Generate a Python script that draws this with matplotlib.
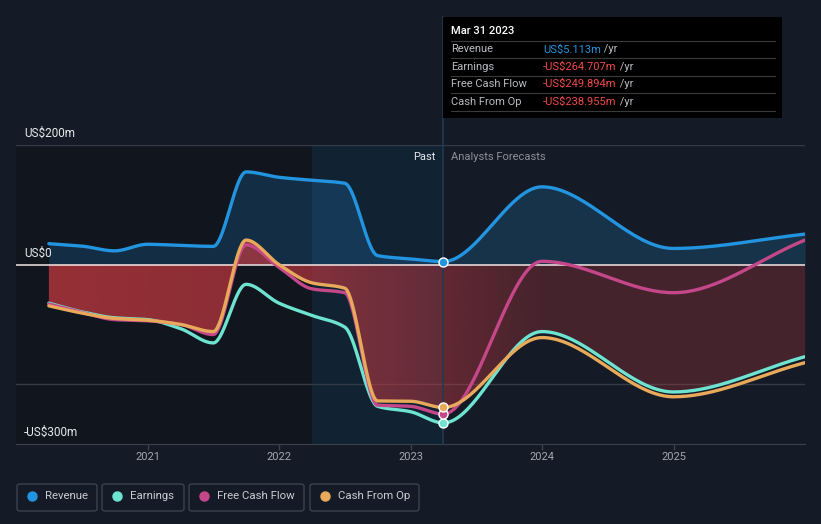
import matplotlib
matplotlib.use("Agg")
import matplotlib.pyplot as plt
from matplotlib.patches import Rectangle, FancyBboxPatch
from matplotlib.lines import Line2D
import numpy as np

plt.rcParams['font.family'] = ['Roboto', 'DejaVu Sans']

# quarterly history (US$m), then analyst forecasts
quarters = [2020.25, 2020.5, 2020.75, 2021.0, 2021.25, 2021.5, 2021.75,
            2022.0, 2022.25, 2022.5, 2022.75, 2023.0, 2023.25]
revenue_past = [35, 31, 23, 34, 32, 30.5, 155, 146, 141, 136, 15, 9.5, 5.113]
earnings_past = [-64.5, -79, -89, -92, -107, -131, -33, -64.5, -85, -104.5, -237, -246, -264.707]
fcf_past = [-66, -80, -92, -94, -100, -117, 33, -4.5, -40.5, -47, -235, -237, -249.894]
cfo_past = [-69, -81, -90, -93, -100, -112, 41, 0, -30.5, -39.5, -228, -228.5, -238.955]

forecast_years = [2024.0, 2025.0, 2026.0]
revenue_fc = [130, 27, 51]
earnings_fc = [-112, -213, -154]
fcf_fc = [5.5, -47, 41]
cfo_fc = [-122, -221, -164]

year_ticks = [2021, 2022, 2023, 2024, 2025]

BG = "#151b26"
C_REV = "#2394df"
C_EARN = "#6de3d0"
C_FCF = "#c4478a"
C_CFO = "#e8a95b"


def monotone(t, y, n=40):
    # monotone cubic curve, like the smoothed lines of the original chart
    t = np.asarray(t, float)
    y = np.asarray(y, float)
    h = np.diff(t)
    d = np.diff(y) / h
    m = np.zeros_like(y)
    m[0], m[-1] = d[0], d[-1]
    for i in range(1, len(y) - 1):
        if d[i - 1] * d[i] <= 0:
            m[i] = 0
        else:
            w1 = 2 * h[i] + h[i - 1]
            w2 = h[i] + 2 * h[i - 1]
            m[i] = (w1 + w2) / (w1 / d[i - 1] + w2 / d[i])
    xs, ys = [], []
    for i in range(len(h)):
        s = np.linspace(0, 1, n, endpoint=(i == len(h) - 1))
        h00 = 2 * s**3 - 3 * s**2 + 1
        h10 = s**3 - 2 * s**2 + s
        h01 = -2 * s**3 + 3 * s**2
        h11 = s**3 - s**2
        xs.append(t[i] + s * h[i])
        ys.append(h00 * y[i] + h10 * h[i] * m[i] + h01 * y[i + 1] + h11 * h[i] * m[i + 1])
    return np.concatenate(xs), np.concatenate(ys)


t_all = quarters + forecast_years
tx, rev = monotone(t_all, revenue_past + revenue_fc)
_, earn = monotone(t_all, earnings_past + earnings_fc)
_, fcf = monotone(t_all, fcf_past + fcf_fc)
_, cfo = monotone(t_all, cfo_past + cfo_fc)

W, H = 821, 524
fig = plt.figure(figsize=(W / 100, H / 100), dpi=100, facecolor=BG)
ax = fig.add_axes([16 / W, (H - 444) / H, (805 - 16) / W, (444 - 145) / H])
ax.set_facecolor(BG)
ax.set_xlim(2020.0, 2026.0)
ax.set_ylim(-300, 200)

# background bands
ax.axvspan(2020.0, 2022.25, color="#0c0f15", alpha=0.45, lw=0, zorder=0)
ax.axvspan(2022.25, 2023.25, color="#0e2a40", alpha=0.5, lw=0, zorder=0)

for g in (200, -200):
    ax.axhline(g, color="#343a46", lw=1, zorder=1)

# fills
ax.fill_between(tx, rev, 0, color=C_REV, alpha=0.2, lw=0, zorder=2)

# red area, fading from left to right
low = np.maximum(earn, cfo)
poly = ax.fill_between(tx, 0, low, facecolor="none", lw=0, zorder=2)
gx = np.linspace(2020.0, 2026.0, 400)
alpha = np.interp(gx, [2020.25, 2022.0, 2023.25, 2024.0], [0.7, 0.64, 0.42, 0.26])
grad = np.zeros((2, gx.size, 4))
grad[..., 0] = 0xd0 / 255
grad[..., 1] = 0x3b / 255
grad[..., 2] = 0x42 / 255
grad[..., 3] = alpha
img = ax.imshow(grad, extent=(2020.0, 2026.0, -300, 200), aspect="auto",
                origin="lower", zorder=2, interpolation="bilinear")
img.set_clip_path(poly.get_paths()[0], transform=ax.transData)

ax.axhline(0, color="#f2e6e6", lw=1.1, zorder=3)

for yy, c in ((rev, C_REV), (earn, C_EARN), (fcf, C_FCF), (cfo, C_CFO)):
    ax.plot(tx, yy, color=c, lw=2.4, zorder=4, solid_capstyle="round")

# markers at the last reported quarter
for v, c in ((revenue_past[-1], C_REV), (earnings_past[-1], C_EARN),
             (fcf_past[-1], C_FCF), (cfo_past[-1], C_CFO)):
    ax.plot([quarters[-1]], [v], "o", ms=6.5, color=c, mec="white", mew=1, zorder=6)

ax.axvline(2023.25, ymin=0, ymax=(444 - 17) / (444 - 145), color="#223a52",
           lw=1.2, zorder=3.5, clip_on=False)

for s in ("top", "right", "left"):
    ax.spines[s].set_visible(False)
ax.spines["bottom"].set_color("#3a404c")
ax.set_yticks([])
ax.set_xticks(year_ticks)
ax.set_xticklabels([str(y) for y in year_ticks])
ax.tick_params(axis="x", colors="#3a404c", length=4, width=1, pad=2, labelcolor="#a3a7ae", labelsize=8)

# y labels
for val, txt in ((200, "US$200m"), (0, "US$0"), (-300, "-US$300m")):
    ax.text(2020.06, val + 8, txt, color="#e6e8eb", fontsize=8.5, va="bottom", ha="left", zorder=7)

ax.text(2023.19, 180, "Past", color="#e6e8eb", fontsize=8, ha="right", va="center", zorder=7)
ax.text(2023.31, 180, "Analysts Forecasts", color="#8b9099", fontsize=8, ha="left", va="center", zorder=7)

# tooltip box
fig.patches.append(Rectangle((443 / W, (H - 118) / H), 339 / W, 101 / H,
                             transform=fig.transFigure, facecolor="#000000", edgecolor="none", zorder=10))
fig.text(451 / W, 1 - 31 / H, "Mar 31 2023", color="white", fontsize=8, va="center", ha="left",
         fontweight="medium", zorder=11)
rows = [("Revenue", "US$5.113m", C_REV),
        ("Earnings", "-US$264.707m", "#f04a4a"),
        ("Free Cash Flow", "-US$249.894m", "#f04a4a"),
        ("Cash From Op", "-US$238.955m", "#f04a4a")]
for i, (lab, val, c) in enumerate(rows):
    yy = 1 - (49.5 + i * 17.4) / H
    fig.text(451 / W, yy, lab, color="#b8bcc2", fontsize=8, va="center", ha="left", zorder=11)
    t = fig.text(543 / W, yy, val, color=c, fontsize=8, va="center", ha="left", zorder=11)
    fig.add_artist(plt.Annotation(" /yr", xy=(1, 0.5), xycoords=t, va="center", ha="left",
                                  color="#b8bcc2", fontsize=8, zorder=11))
for i in range(5):
    yy = 1 - (41 + i * 17.4) / H
    fig.add_artist(Line2D([451 / W, 775 / W], [yy, yy], transform=fig.transFigure,
                          color="#3a3a3a", lw=0.8, zorder=11))

# legend
legend_items = [("Revenue", C_REV, 17, 97), ("Earnings", C_EARN, 102, 184),
                ("Free Cash Flow", C_FCF, 189, 304), ("Cash From Op", C_CFO, 310, 419)]
for lab, c, x0, x1 in legend_items:
    fig.patches.append(FancyBboxPatch((x0 / W, (H - 511) / H), (x1 - x0) / W, 27 / H,
                                      boxstyle="round,pad=0,rounding_size=0.004",
                                      transform=fig.transFigure, facecolor="none",
                                      edgecolor="#3c424e", lw=1))
    fig.add_artist(Line2D([(x0 + 15) / W], [1 - 496 / H], marker="o", ms=6.5, color=c,
                          transform=fig.transFigure, lw=0))
    fig.text((x0 + 27.5) / W, 1 - 496 / H, lab, color="#c9ccd1", fontsize=8.2, va="center", ha="left")

fig.savefig("out.png", dpi=100, facecolor=BG)
